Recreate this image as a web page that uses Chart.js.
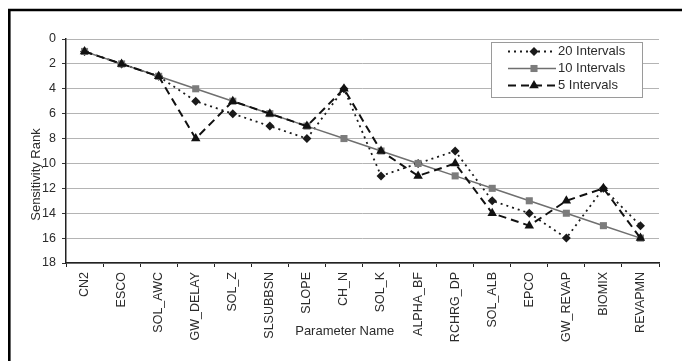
<!DOCTYPE html>
<html>
<head>
<meta charset="utf-8">
<script src="https://cdn.jsdelivr.net/npm/chart.js@4/dist/chart.umd.min.js"></script>
<style>
  html, body { margin: 0; padding: 0; background: #fff; }
  canvas { display: block; }
</style>
</head>
<body>
<canvas id="rank" width="682" height="361"></canvas>
<script>
// Parameters, in order of the 10-interval ranking
const categories = ['CN2', 'ESCO', 'SOL_AWC', 'GW_DELAY', 'SOL_Z', 'SLSUBBSN', 'SLOPE', 'CH_N',
  'SOL_K', 'ALPHA_BF', 'RCHRG_DP', 'SOL_ALB', 'EPCO', 'GW_REVAP', 'BIOMIX', 'REVAPMN'];

// Sensitivity rank of each parameter for each interval count
const rank20 = [1, 2, 3, 5, 6, 7, 8, 4, 11, 10, 9, 13, 14, 16, 12, 15];
const rank10 = [1, 2, 3, 4, 5, 6, 7, 8, 9, 10, 11, 12, 13, 14, 15, 16];
const rank5  = [1, 2, 3, 8, 5, 6, 7, 4, 9, 11, 10, 14, 15, 13, 12, 16];

// Rank axis ticks
const rankTicks = [0, 2, 4, 6, 8, 10, 12, 14, 16, 18];

const seriesNames = ['20 Intervals', '10 Intervals', '5 Intervals'];

const FONT = '"Liberation Sans", Arial, Helvetica, sans-serif';
const TEXT = '#2b2b2b';

// Outer frame, axis titles and the boxed legend
const decor = {
  id: 'decor',
  beforeDraw(chart) {
    const ctx = chart.ctx;
    ctx.save();
    ctx.fillStyle = '#fff';
    ctx.fillRect(0, 0, chart.width, chart.height);
    ctx.strokeStyle = '#000';
    ctx.lineWidth = 2.6;
    ctx.beginPath();
    ctx.moveTo(9.3, chart.height + 5);
    ctx.lineTo(9.3, 10);
    ctx.lineTo(chart.width + 5, 10);
    ctx.stroke();
    ctx.restore();
  },
  afterDraw(chart) {
    const ctx = chart.ctx;
    const a = chart.chartArea;
    ctx.save();
    ctx.fillStyle = TEXT;
    ctx.font = '13px ' + FONT;
    ctx.textAlign = 'center';
    ctx.textBaseline = 'middle';
    // x title
    ctx.fillText('Parameter Name', a.left + a.width * 0.47, 331);
    // y title
    ctx.translate(36, a.top + a.height * 0.605);
    ctx.rotate(-Math.PI / 2);
    ctx.fillText('Sensitivity Rank', 0, 0);
    ctx.restore();

    // legend
    const bw = 151, bh = 55;
    const bx = a.right - 17 - bw, by = a.top + 3;
    ctx.save();
    ctx.fillStyle = '#fff';
    ctx.fillRect(bx, by, bw, bh);
    ctx.strokeStyle = '#9a9a9a';
    ctx.lineWidth = 1;
    ctx.strokeRect(bx + 0.5, by + 0.5, bw, bh);
    chart.data.datasets.forEach((ds, i) => {
      const y = by + 9.5 + i * 17;
      const x0 = bx + 17, x1 = bx + 65, xm = (x0 + x1) / 2 + 2;
      ctx.save();
      ctx.strokeStyle = ds.borderColor;
      ctx.lineWidth = ds.borderWidth;
      ctx.setLineDash(ds.borderDash || []);
      ctx.beginPath();
      ctx.moveTo(x0, y);
      ctx.lineTo(x1, y);
      ctx.stroke();
      ctx.restore();
      ctx.fillStyle = ds.pointBackgroundColor;
      ctx.strokeStyle = ds.pointBackgroundColor;
      Chart.helpers.drawPoint(ctx, {
        pointStyle: ds.pointStyle, radius: ds.pointRadius, rotation: 0, borderWidth: 0
      }, xm, y);
      ctx.fillStyle = TEXT;
      ctx.font = '13px ' + FONT;
      ctx.textAlign = 'left';
      ctx.textBaseline = 'middle';
      ctx.fillText(ds.label, x1 + 2, y);
    });
    ctx.restore();
  }
};

new Chart(document.getElementById('rank'), {
  type: 'line',
  data: {
    labels: categories,
    datasets: [
      {
        label: seriesNames[0], data: rank20, order: 3,
        borderColor: '#1a1a1a', borderWidth: 1.8, borderDash: [2, 4],
        pointStyle: 'rectRot', pointRadius: 4.5,
        pointBackgroundColor: '#1a1a1a', pointBorderWidth: 0
      },
      {
        label: seriesNames[1], data: rank10, order: 2,
        borderColor: '#6f6f6f', borderWidth: 1.5,
        pointStyle: 'rect', pointRadius: 5,
        pointBackgroundColor: '#7c7c7c', pointBorderWidth: 0
      },
      {
        label: seriesNames[2], data: rank5, order: 1,
        borderColor: '#111', borderWidth: 2, borderDash: [8, 5],
        pointStyle: 'triangle', pointRadius: 5.5,
        pointBackgroundColor: '#111', pointBorderWidth: 0
      }
    ]
  },
  options: {
    responsive: false,
    animation: false,
    devicePixelRatio: 1,
    layout: { padding: { left: 0, top: 39, right: 23, bottom: 0 } },
    elements: { line: { tension: 0, fill: false } },
    plugins: { legend: { display: false }, tooltip: { enabled: false } },
    scales: {
      x: {
        type: 'category',
        offset: true,
        afterFit(scale) { scale.height = 98; },
        grid: { offset: true, drawOnChartArea: false, drawTicks: true, tickLength: 4, color: '#222', lineWidth: 1 },
        border: { display: true, color: '#222', width: 1.5 },
        ticks: {
          autoSkip: false, maxRotation: 90, minRotation: 90, padding: 5,
          color: TEXT, font: { family: FONT, size: 12.5 }
        }
      },
      y: {
        min: rankTicks[0],
        max: rankTicks[rankTicks.length - 1],
        reverse: true,
        afterFit(scale) { scale.width = 66; },
        afterBuildTicks(scale) { scale.ticks = rankTicks.map(v => ({ value: v })); },
        grid: { color: '#b4b4b4', lineWidth: 1, tickLength: 4, tickColor: '#333' },
        border: { display: true, color: '#222', width: 1.5 },
        ticks: { padding: 6, color: TEXT, font: { family: FONT, size: 12.5 } }
      }
    }
  },
  plugins: [decor]
});
</script>
</body>
</html>
